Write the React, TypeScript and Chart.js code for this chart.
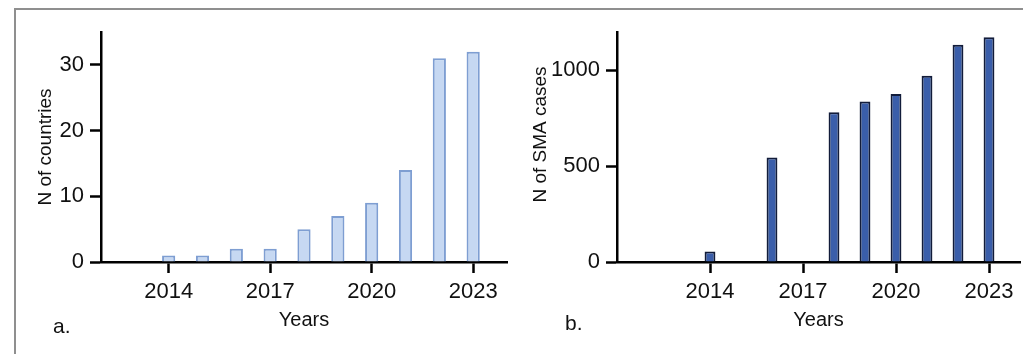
import React, { useEffect, useRef } from "react";
import { Chart, registerables } from "chart.js";

Chart.register(...registerables);

// ---- data ----
const yearsA = [2014, 2015, 2016, 2017, 2018, 2019, 2020, 2021, 2022, 2023];
const countries = [1, 1, 2, 2, 5, 7, 9, 14, 31, 32];

const yearsB = [2014, 2016, 2018, 2019, 2020, 2021, 2022, 2023];
const smaCases = [55, 545, 781, 838, 877, 972, 1134, 1172];

const xTickYears = [2014, 2017, 2020, 2023];
const yTicksA = [0, 10, 20, 30];
const yTicksB = [0, 500, 1000];

const FAMILY = "'Liberation Sans', Arial, Helvetica, sans-serif";
const TEXT = "#111111";

const yTitlePlugin = {
  id: "yTitle",
  afterDraw(chart: any, _args: any, opts: any) {
    const { ctx, chartArea } = chart;
    ctx.save();
    ctx.font = `${opts.size}px ${FAMILY}`;
    ctx.fillStyle = opts.color;
    ctx.textAlign = "center";
    ctx.textBaseline = "middle";
    ctx.translate(opts.x, (chartArea.top + chartArea.bottom) / 2 + opts.dy);
    ctx.rotate(-Math.PI / 2);
    ctx.fillText(opts.text, 0, 0);
    ctx.restore();
  },
};

function makeConfig(p: {
  xs: number[];
  ys: number[];
  xMin: number;
  xMax: number;
  yMax: number;
  yTicks: number[];
  fill: string;
  border: string;
  barPct: number;
  yWidth: number;
  padRight: number;
  title: string;
  titleX: number;
  titleDy: number;
}): any {
  const zeroPad = (s: any) => {
    s.paddingLeft = 0;
    s.paddingRight = 0;
    s.paddingTop = 0;
    s.paddingBottom = 0;
  };
  return {
    type: "bar",
    data: {
      datasets: [
        {
          data: p.xs.map((x, i) => ({ x, y: p.ys[i] })),
          backgroundColor: p.fill,
          borderColor: p.border,
          borderWidth: 2,
          barPercentage: p.barPct,
          categoryPercentage: 1,
        },
      ],
    },
    options: {
      responsive: false,
      animation: false,
      devicePixelRatio: 1,
      layout: { padding: { left: 0, top: 32, right: p.padRight, bottom: 0 } },
      plugins: {
        legend: { display: false },
        tooltip: { enabled: false },
        yTitle: { text: p.title, x: p.titleX, dy: p.titleDy, size: 19, color: TEXT },
      },
      scales: {
        x: {
          type: "linear",
          min: p.xMin,
          max: p.xMax,
          offset: false,
          afterBuildTicks: (axis: any) => {
            axis.ticks = xTickYears.map((v) => ({ value: v }));
          },
          afterFit: (s: any) => {
            s.height = 92;
            zeroPad(s);
          },
          ticks: {
            autoSkip: false,
            maxRotation: 0,
            padding: 6,
            color: TEXT,
            font: { size: 22, family: FAMILY },
            callback: (v: any) => String(v),
          },
          grid: {
            display: true,
            offset: false,
            drawOnChartArea: false,
            drawTicks: true,
            tickLength: 11,
            tickColor: "#000",
            tickWidth: 2.5,
          },
          border: { display: true, color: "#000", width: 2.5 },
          title: {
            display: true,
            text: "Years",
            color: TEXT,
            font: { size: 20, family: FAMILY },
            padding: { top: 0, bottom: 22 },
          },
        },
        y: {
          type: "linear",
          min: 0,
          max: p.yMax,
          afterBuildTicks: (axis: any) => {
            axis.ticks = p.yTicks.map((v) => ({ value: v }));
          },
          afterFit: (s: any) => {
            s.width = p.yWidth;
            zeroPad(s);
          },
          ticks: {
            padding: 6,
            color: TEXT,
            font: { size: 22, family: FAMILY },
            callback: (v: any) => String(v),
          },
          grid: {
            display: true,
            drawOnChartArea: false,
            drawTicks: true,
            tickLength: 11,
            tickColor: "#000",
            tickWidth: 2.5,
          },
          border: { display: true, color: "#000", width: 2.5 },
        },
      },
    },
    plugins: [yTitlePlugin],
  };
}

function Panel(props: { left: number; width: number; cfg: any }) {
  const ref = useRef<HTMLCanvasElement | null>(null);
  useEffect(() => {
    if (!ref.current) return;
    const chart = new Chart(ref.current, props.cfg);
    return () => chart.destroy();
  }, []);
  return (
    <canvas
      ref={ref}
      width={props.width}
      height={354}
      style={{ position: "absolute", left: props.left, top: 0, width: props.width, height: 354 }}
    />
  );
}

export default function App() {
  const cfgA = makeConfig({
    xs: yearsA,
    ys: countries,
    xMin: 2012,
    xMax: 2024,
    yMax: 35,
    yTicks: yTicksA,
    fill: "rgb(198,216,242)",
    border: "rgb(126,158,210)",
    barPct: 0.39,
    yWidth: 101,
    padRight: 5,
    title: "N of countries",
    titleX: 46,
    titleDy: 0,
  });
  const cfgB = makeConfig({
    xs: yearsB,
    ys: smaCases,
    xMin: 2011,
    xMax: 2024,
    yMax: 1200,
    yTicks: yTicksB,
    fill: "rgb(58,94,170)",
    border: "rgb(18,28,58)",
    barPct: 0.35,
    yWidth: 105,
    padRight: 3,
    title: "N of SMA cases",
    titleX: 29,
    titleDy: -12.5,
  });
  const labelStyle: React.CSSProperties = {
    position: "absolute",
    fontFamily: FAMILY,
    fontSize: 21,
    lineHeight: 1,
    color: TEXT,
  };
  return (
    <div
      style={{
        position: "absolute",
        left: 0,
        top: 0,
        width: 1023,
        height: 354,
        overflow: "hidden",
        background: "#fff",
      }}
    >
      <div
        style={{
          position: "absolute",
          left: 14,
          top: 8,
          width: 1100,
          height: 400,
          borderLeft: "2px solid #8f8f8f",
          borderTop: "2px solid #8f8f8f",
        }}
      />
      <Panel left={0} width={512} cfg={cfgA} />
      <Panel left={512} width={511} cfg={cfgB} />
      <div style={{ ...labelStyle, left: 53, top: 315 }}>a.</div>
      <div style={{ ...labelStyle, left: 565, top: 312 }}>b.</div>
    </div>
  );
}
